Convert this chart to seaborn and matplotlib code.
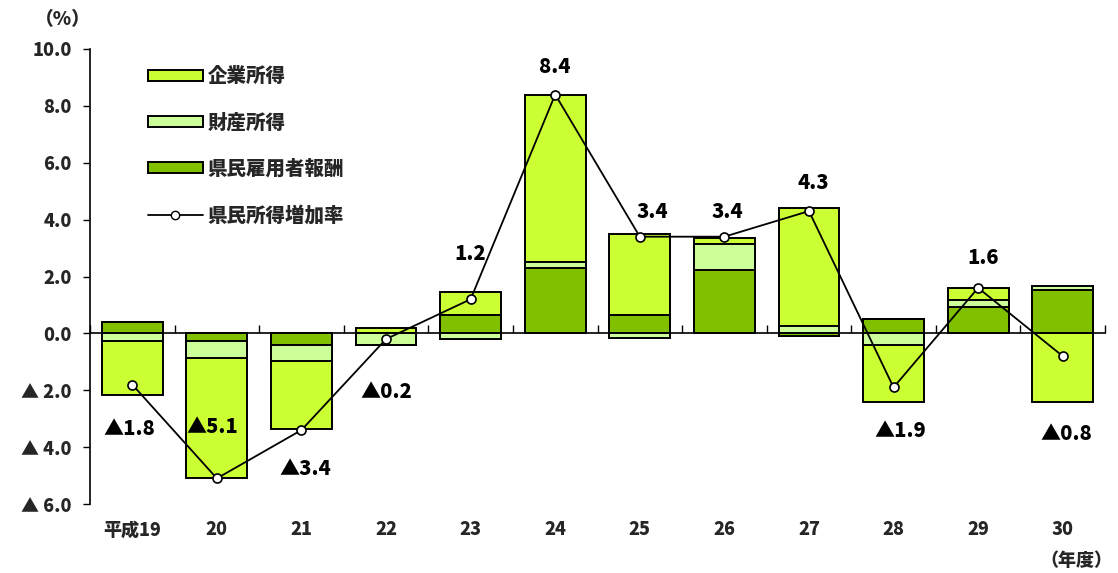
import numpy as np
import pandas as pd
import matplotlib
matplotlib.use("Agg")
import matplotlib.pyplot as plt
from matplotlib.patches import Patch
from matplotlib.lines import Line2D
import seaborn as sns

# 県民所得の増加率と寄与度（%）
years = ["平成19", "20", "21", "22", "23", "24", "25", "26", "27", "28", "29", "30"]
employee_comp = [0.40, -0.27, -0.40, 0.00, 0.65, 2.29, 0.64, 2.23, -0.09, 0.51, 0.91, 1.51]
property_inc = [-0.27, -0.60, -0.56, -0.42, -0.20, 0.23, -0.15, 0.90, 0.26, -0.40, 0.28, 0.15]
corporate_inc = [-1.88, -4.22, -2.39, 0.20, 0.79, 5.88, 2.87, 0.24, 4.14, -2.01, 0.40, -2.41]
growth_rate = [-1.8, -5.1, -3.4, -0.2, 1.2, 8.4, 3.4, 3.4, 4.3, -1.9, 1.6, -0.8]
y_ticks = [-6, -4, -2, 0, 2, 4, 6, 8, 10]

# annotation placement (offset of each value label from its point, data units)
label_dx = [-0.03, -0.05, 0.05, 0.0, 0.0, 0.0, 0.15, 0.03, 0.05, 0.08, 0.06, 0.04]
label_y = [-3.37, -3.30, -4.77, -2.05, 2.78, 9.35, 4.28, 4.28, 5.29, -3.44, 2.64, -3.55]

C_CORP = "#CCFF33"
C_PROP = "#CCFF99"
C_EMP = "#80C000"

sns.set_theme(style="white")
plt.rcParams["font.family"] = ["Noto Sans CJK JP", "DejaVu Sans"]
plt.rcParams["font.weight"] = "heavy"
FW = "heavy"

fig = plt.figure(figsize=(11.18, 5.73), dpi=100)
ax = fig.add_axes([90 / 1118, 1 - 504 / 573, (1105 - 90) / 1118, (504 - 49) / 573])

emp = np.array(employee_comp)
prop = np.array(property_inc)
corp = np.array(corporate_inc)

# stack positive parts upward and negative parts downward, in the order 雇用者報酬 → 財産所得 → 企業所得
def stacks(sign):
    f = (lambda a: np.clip(a, 0, None)) if sign > 0 else (lambda a: np.clip(a, None, 0))
    c1 = f(emp)
    c2 = c1 + f(prop)
    c3 = c2 + f(corp)
    return c1, c2, c3

x_idx = np.arange(len(years))
for sign in (1, -1):
    c1, c2, c3 = stacks(sign)
    for vals, col in ((c3, C_CORP), (c2, C_PROP), (c1, C_EMP)):
        df = pd.DataFrame({"year": years, "value": vals})
        sns.barplot(data=df, x="year", y="value", order=years, color=col,
                    saturation=1, edgecolor="black", linewidth=1.4,
                    width=0.72, errorbar=None, ax=ax, zorder=2)

line_df = pd.DataFrame({"x": x_idx, "rate": growth_rate})
sns.lineplot(data=line_df, x="x", y="rate", color="black", linewidth=1.3,
             marker="o", markersize=6.5, markerfacecolor="white",
             markeredgecolor="black", markeredgewidth=1.2, ax=ax, zorder=4)

for i, v in enumerate(growth_rate):
    txt = f"{v:.1f}" if v >= 0 else f"▲{abs(v):.1f}"
    ax.text(i + label_dx[i], label_y[i], txt, ha="center", va="center",
            fontsize=14.5, fontweight=FW, color="black", zorder=5)

ax.set_xlim(-0.5, len(years) - 0.5)
ax.set_ylim(-6, 10)
ax.set_xlabel("")
ax.set_ylabel("")

# y axis
ax.set_yticks(y_ticks)
ax.set_yticklabels([f"{t:.1f}" if t >= 0 else f"▲ {abs(t):.1f}" for t in y_ticks],
                   fontsize=13, fontweight=FW)
ax.tick_params(axis="y", direction="out", length=5, width=1, color="black",
               left=True, pad=8)

# x axis drawn along zero with boundary ticks
for s in ("top", "right"):
    ax.spines[s].set_visible(False)
ax.spines["left"].set_color("black")
ax.spines["left"].set_linewidth(1.2)
ax.spines["bottom"].set_position(("data", 0))
ax.spines["bottom"].set_color("black")
ax.spines["bottom"].set_linewidth(1.2)
ax.spines["bottom"].set_zorder(3)
ax.set_xticks(np.arange(len(years) + 1) - 0.5)
ax.set_xticklabels([])
ax.tick_params(axis="x", direction="in", length=6, width=1, color="black", bottom=True)

trans = ax.get_xaxis_transform()
for i, lab in enumerate(years):
    ax.text(i, -0.057, lab, transform=trans, ha="center", va="center",
            fontsize=13, fontweight=FW)

fig.text(63 / 1118, 1 - 20 / 573, "（%）", ha="center", va="center",
         fontsize=13.5, fontweight=FW)
fig.text(1076 / 1118, 1 - 560 / 573, "（年度）", ha="center", va="center",
         fontsize=13, fontweight=FW)

handles = [
    Patch(facecolor=C_CORP, edgecolor="black", linewidth=1.4),
    Patch(facecolor=C_PROP, edgecolor="black", linewidth=1.4),
    Patch(facecolor=C_EMP, edgecolor="black", linewidth=1.4),
    Line2D([0], [0], color="black", linewidth=1.3, marker="o", markersize=6,
           markerfacecolor="white", markeredgecolor="black"),
]
labels = ["企業所得", "財産所得", "県民雇用者報酬", "県民所得増加率"]
ax.legend(handles, labels, loc="upper left", bbox_to_anchor=(0.049, 0.977),
          frameon=False, prop={"size": 14, "weight": FW}, labelspacing=1.38,
          handlelength=2.85, handleheight=0.5, handletextpad=0.25, borderaxespad=0)

fig.savefig("out.png", dpi=100)
